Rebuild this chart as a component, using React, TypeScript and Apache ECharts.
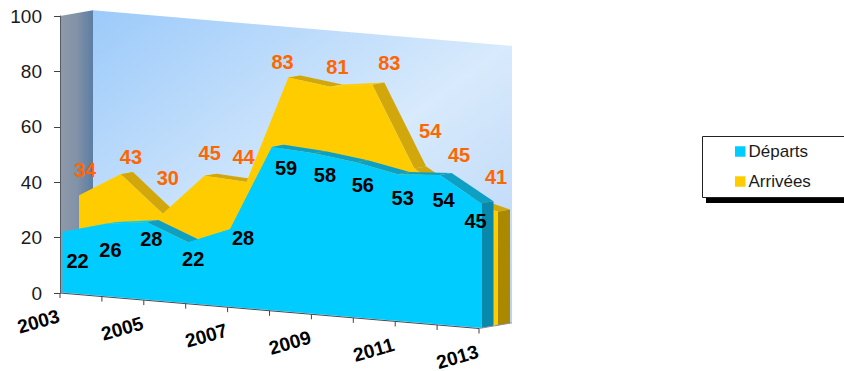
import React, { useEffect, useRef } from "react";
import * as echarts from "echarts";

const years = ["2003", "2004", "2005", "2006", "2007", "2008", "2009", "2010", "2011", "2012", "2013"];
const departs = [22, 26, 28, 22, 28, 59, 58, 56, 53, 54, 45];
const arrivees = [34, 43, 30, 45, 44, 83, 81, 83, 54, 45, 41];
const yTicks = [0, 20, 40, 60, 80, 100];

// Hand placement of the value labels relative to their vertex.
const departsNudge = [[15, 29], [6, 26], [5, 17], [5, 17], [13, 8.5], [14, 21], [11, 22], [7, 22.5], [5, 24], [4, 25], [-6, 18]];
const arriveesNudge = [[6, -26], [10, -17], [5, -36], [5, -23], [-3, -25], [-6, -16], [7, -20], [17, -22], [16, -38], [3, -42], [-2, -35]];

const GRID = { left: 60, top: 16, width: 419, height: 277 };
const FLOOR_SLOPE = 35.5 / 419; // the floor's front edge falls to the right
const DEPTH_SLOPE = -0.172; // receding lines rise to the right
const WALL_DEPTH = 33;
const FONT = '"Liberation Sans", Arial, sans-serif';

// Oblique projection of a (category, value) pair placed at some depth.
function project(api: any, i: number, v: number, depth: number): number[] {
  const p = api.coord([i, v]);
  return [p[0] + depth, p[1] + (p[0] - GRID.left) * FLOOR_SLOPE + depth * DEPTH_SLOPE];
}

function solidSeries(name: string, values: number[], d0: number, d1: number, front: string, top: string, end: string, z: number) {
  return {
    type: "custom",
    name,
    z,
    silent: true,
    itemStyle: { color: front },
    data: values.map((v, i) => [i, v]),
    encode: { x: 0, y: 1 },
    renderItem: (params: any, api: any) => {
      const i = params.dataIndex;
      const last = values.length - 1;
      if (i < last) {
        const a = project(api, i, values[i], d0);
        const b = project(api, i + 1, values[i + 1], d0);
        const a2 = project(api, i, values[i], d1);
        const b2 = project(api, i + 1, values[i + 1], d1);
        return {
          type: "polygon",
          shape: { points: [a, b, b2, a2] },
          style: { fill: b[1] > a[1] ? top : front },
        };
      }
      const outline = values.map((v, k) => project(api, k, v, d0));
      const floorA = project(api, last, 0, d0);
      const floorB = project(api, 0, 0, d0);
      return {
        type: "group",
        children: [
          {
            type: "polygon",
            shape: { points: [project(api, last, values[last], d0), project(api, last, values[last], d1), project(api, last, 0, d1), floorA] },
            style: { fill: end },
          },
          { type: "polygon", shape: { points: [...outline, floorA, floorB] }, style: { fill: front } },
        ],
      };
    },
  };
}

function labelSeries(name: string, values: number[], depth: number, nudge: number[][], color: string) {
  return {
    type: "custom",
    name,
    z: 8,
    silent: true,
    data: values.map((v, i) => [i, v]),
    encode: { x: 0, y: 1 },
    renderItem: (params: any, api: any) => {
      const i = params.dataIndex;
      const p = project(api, i, values[i], depth);
      return {
        type: "text",
        x: p[0] + nudge[i][0],
        y: p[1] + nudge[i][1],
        style: {
          text: String(values[i]),
          fill: color,
          font: `bold 20px ${FONT}`,
          textAlign: "center",
          textVerticalAlign: "middle",
        },
      };
    },
  };
}

export default function App() {
  const ref = useRef<HTMLDivElement>(null);
  useEffect(() => {
    const chart = echarts.init(ref.current!, null, { renderer: "svg" });
    chart.setOption({
      animation: false,
      backgroundColor: "#ffffff",
      grid: { ...GRID },
      xAxis: {
        type: "category",
        data: years,
        boundaryGap: false,
        axisLine: { show: false },
        axisTick: { show: false },
        axisLabel: { show: false },
      },
      yAxis: {
        type: "value",
        min: yTicks[0],
        max: yTicks[yTicks.length - 1],
        interval: 20,
        splitLine: { show: false },
        axisLine: { show: true, lineStyle: { color: "#555b66", width: 1 } },
        axisTick: { show: true, length: 6, lineStyle: { color: "#404040" } },
        axisLabel: { margin: 18, color: "#1a1a1a", fontSize: 19, fontFamily: FONT },
        z: 6,
      },
      legend: {
        data: ["Départs", "Arrivées"],
        orient: "vertical",
        left: 735,
        top: 143,
        itemWidth: 10.5,
        itemHeight: 10.5,
        itemGap: 13,
        icon: "rect",
        padding: 0,
        z: 10,
        selectedMode: false,
        textStyle: { fontFamily: FONT, fontSize: 17, color: "#1a1a1a", padding: [0, 0, 0, -2] },
      },
      graphic: [
        { type: "rect", z: 1, shape: { x: 706, y: 197, width: 150, height: 6 }, style: { fill: "#000000" } },
        { type: "rect", z: 2, shape: { x: 702.5, y: 136.5, width: 150, height: 61 }, style: { fill: "#ffffff", stroke: "#222222", lineWidth: 1 } },
      ],
      series: [
        {
          type: "custom",
          name: "walls",
          z: 1,
          silent: true,
          data: [[0, 0]],
          encode: { x: 0, y: 1 },
          renderItem: (_p: any, api: any) => {
            const n = years.length - 1;
            const top = yTicks[yTicks.length - 1];
            return {
              type: "group",
              children: [
                {
                  type: "polygon",
                  shape: { points: [project(api, 0, 0, 0), project(api, 0, top, 0), project(api, 0, top, WALL_DEPTH), project(api, 0, 0, WALL_DEPTH)] },
                  style: {
                    fill: new echarts.graphic.LinearGradient(0, 0, 1, 0, [
                      { offset: 0, color: "#8f9aa8" },
                      { offset: 0.5, color: "#8292a8" },
                      { offset: 1, color: "#5c7da3" },
                    ]),
                  },
                },
                {
                  type: "polygon",
                  shape: { points: [project(api, 0, 0, WALL_DEPTH), project(api, 0, top, WALL_DEPTH), project(api, n, top, WALL_DEPTH), project(api, n, 0, WALL_DEPTH)] },
                  style: {
                    fill: new echarts.graphic.LinearGradient(0, 0, 1, 1, [
                      { offset: 0, color: "#9ccafa" },
                      { offset: 0.55, color: "#d8eafc" },
                      { offset: 1, color: "#b5d3f7" },
                    ]),
                  },
                },
              ],
            };
          },
        },
        solidSeries("Arrivées", arrivees, 19, 31, "#ffcc00", "#d1a70b", "#aa8800", 3),
        solidSeries("Départs", departs, 2.5, 14.5, "#00ccff", "#0e9fc4", "#0888aa", 4),
        {
          type: "custom",
          name: "floor axis",
          z: 5,
          silent: true,
          data: years.map((_y, i) => [i, 0]),
          encode: { x: 0, y: 1 },
          renderItem: (params: any, api: any) => {
            const i = params.dataIndex;
            const n = years.length - 1;
            const p = project(api, i, 0, 0);
            const children: any[] = [
              { type: "line", shape: { x1: p[0], y1: p[1], x2: p[0], y2: p[1] + 5 }, style: { stroke: "#404040", lineWidth: 1 } },
            ];
            if (i % 2 === 0) {
              children.push({
                type: "text",
                x: p[0] - 21.5,
                y: p[1] + 28.5,
                rotation: 0.28,
                style: {
                  text: years[i],
                  fill: "#000000",
                  font: `bold 19.2px ${FONT}`,
                  textAlign: "center",
                  textVerticalAlign: "middle",
                },
              });
            }
            if (i === n) {
              const a = project(api, 0, 0, 0);
              const c = project(api, n, 0, WALL_DEPTH);
              children.push(
                { type: "line", shape: { x1: a[0], y1: a[1], x2: p[0], y2: p[1] }, style: { stroke: "#404a55", lineWidth: 1 } },
                { type: "line", shape: { x1: p[0], y1: p[1], x2: c[0], y2: c[1] }, style: { stroke: "#8a8f96", lineWidth: 1 } },
              );
            }
            return { type: "group", children };
          },
        },
        labelSeries("arrivees values", arrivees, 19, arriveesNudge, "#ff6600"),
        labelSeries("departs values", departs, 2.5, departsNudge, "#000000"),
      ],
    });
    return () => chart.dispose();
  }, []);
  return <div ref={ref} style={{ position: "absolute", left: 0, top: 0, width: 844, height: 371 }} />;
}
